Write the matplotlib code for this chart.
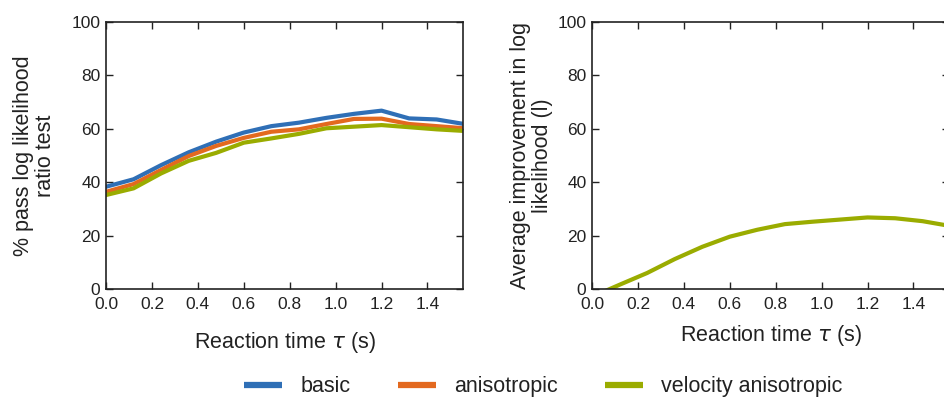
import matplotlib
matplotlib.use("Agg")
import matplotlib.pyplot as plt

plt.rcParams['font.family'] = ['Liberation Sans', 'DejaVu Sans']
plt.rcParams['mathtext.fontset'] = 'dejavusans'

tau = [0.0, 0.12, 0.24, 0.36, 0.48, 0.60, 0.72, 0.84, 0.96, 1.08, 1.20, 1.32, 1.44, 1.56]
basic = [38.3, 41.1, 46.4, 51.2, 55.2, 58.6, 61.0, 62.3, 64.1, 65.6, 66.8, 63.9, 63.5, 61.8]
anisotropic = [36.4, 39.3, 44.6, 49.8, 53.6, 56.6, 58.9, 59.8, 61.8, 63.7, 63.8, 61.8, 61.0, 60.2]
velocity_aniso = [35.2, 37.7, 43.3, 48.0, 51.0, 54.8, 56.4, 58.1, 60.2, 60.8, 61.4, 60.6, 59.8, 59.2]
improvement = [-2.9, 1.6, 6.0, 11.2, 15.8, 19.6, 22.2, 24.3, 25.2, 26.0, 26.8, 26.5, 25.4, 23.6]

xticks = [0.0, 0.2, 0.4, 0.6, 0.8, 1.0, 1.2, 1.4]
yticks = [0, 20, 40, 60, 80, 100]

c_blue = '#2f6fb6'
c_orange = '#e3691f'
c_green = '#9aac00'
txt = '#222222'

fig = plt.figure(figsize=(9.45, 4.01), dpi=100)
ax1 = fig.add_axes([0.1122, 0.2793, 0.3778, 0.6658])
ax2 = fig.add_axes([0.6265, 0.2793, 0.3778, 0.6658])

lw = 3.0
l1, = ax1.plot(tau, basic, color=c_blue, lw=lw, label='basic', solid_joinstyle='round')
l2, = ax1.plot(tau, anisotropic, color=c_orange, lw=lw, label='anisotropic', solid_joinstyle='round')
l3, = ax1.plot(tau, velocity_aniso, color=c_green, lw=lw, label='velocity anisotropic', solid_joinstyle='round')
ax2.plot(tau, improvement, color=c_green, lw=lw, solid_joinstyle='round')

for ax in (ax1, ax2):
    ax.set_xlim(0, 1.555)
    ax.set_ylim(0, 100)
    ax.set_xticks(xticks)
    ax.set_xticklabels(['%.1f' % t for t in xticks])
    ax.set_yticks(yticks)
    ax.tick_params(direction='in', top=True, right=True, length=5, width=1,
                   labelsize=12.5, colors=txt)
    ax.tick_params(axis='x', pad=6)
    ax.tick_params(axis='y', pad=4)
    for sp in ax.spines.values():
        sp.set_linewidth(1.2)
        sp.set_color(txt)

ax1.set_xlabel(r'Reaction time $\tau$ (s)', fontsize=15.5, labelpad=13, color=txt)
ax2.set_xlabel(r'Reaction time $\tau$ (s)', fontsize=15.5, labelpad=8, color=txt)
ax1.set_ylabel('% pass log likelihood\nratio test', fontsize=15.5, labelpad=11,
               color=txt, linespacing=1.05)
ax2.set_ylabel('Average improvement in log\nlikelihood (l)', fontsize=15.5, labelpad=3,
               color=txt, linespacing=1.1)

leg = fig.legend(handles=[l1, l2, l3], loc='center', bbox_to_anchor=(0.575, 0.035),
                 ncol=3, frameon=False, fontsize=15.5, handlelength=1.75,
                 columnspacing=2.2, handletextpad=0.85, borderpad=0.2)
for h in leg.get_lines():
    h.set_linewidth(4.5)
    h.set_solid_capstyle('butt')
for t in leg.get_texts():
    t.set_color(txt)

fig.savefig('out.png', dpi=100)
